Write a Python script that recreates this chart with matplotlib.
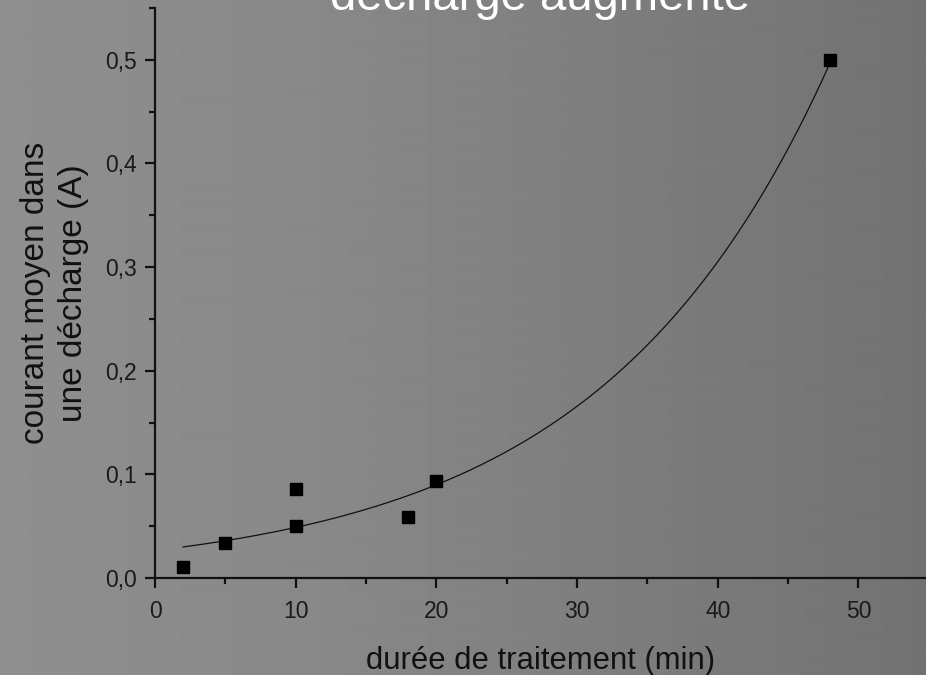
import matplotlib as mpl
import matplotlib.pyplot as plt
import numpy as np
from matplotlib.ticker import FuncFormatter, MultipleLocator

mpl.use("Agg")
plt.rcParams["font.family"] = ["Liberation Sans", "DejaVu Sans"]

# measured points: treatment duration (min) vs mean current in one discharge (A)
duree_min = [2, 5, 10, 10, 18, 20, 48]
courant_a = [0.011, 0.034, 0.086, 0.050, 0.059, 0.094, 0.500]

# exponential growth fit y = A * exp(B * x), drawn from first to last point
FIT_A = 0.0265
FIT_B = 0.0611

INK = "#111111"

fig = plt.figure(figsize=(9.26, 6.75), dpi=100)

# grey horizontal gradient behind everything
bg = fig.add_axes([0, 0, 1, 1], zorder=-1)
bg.axis("off")
cols = np.interp(np.linspace(0, 1, 926), [0, 0.33, 1], [0x8f, 0x89, 0x72]) / 255
bg.imshow(np.tile(cols, (2, 1)), cmap="gray", vmin=0, vmax=1, aspect="auto",
          extent=[0, 1, 0, 1], interpolation="bilinear")

ax = fig.add_axes([155 / 926, 97 / 675, 771 / 926, 570 / 675])
ax.set_facecolor("none")

xs = np.linspace(min(duree_min), max(duree_min), 300)
ax.plot(xs, FIT_A * np.exp(FIT_B * xs), color=INK, lw=0.9)
ax.plot(duree_min, courant_a, "s", color="black", ms=8.5, ls="none")

ax.set_xlim(0, 54.8)
ax.set_ylim(0, 0.55)
ax.xaxis.set_major_locator(MultipleLocator(10))
ax.xaxis.set_minor_locator(MultipleLocator(5))
ax.yaxis.set_major_locator(MultipleLocator(0.1))
ax.yaxis.set_minor_locator(MultipleLocator(0.05))
ax.yaxis.set_major_formatter(FuncFormatter(lambda v, _: f"{v:.1f}".replace(".", ",")))

for s in ("top", "right"):
    ax.spines[s].set_visible(False)
for s in ("left", "bottom"):
    ax.spines[s].set_linewidth(1.6)
    ax.spines[s].set_color(INK)
ax.tick_params(which="major", length=7, width=1.6, labelsize=16.5, color=INK,
               labelcolor="#1a1a1a")
ax.tick_params(axis="x", which="major", pad=8.5)
ax.tick_params(axis="y", which="major", pad=6)
ax.tick_params(which="minor", length=4.5, width=1.6, color=INK)

ax.set_xlabel("durée de traitement (min)", fontsize=22.3, color="#111111", labelpad=17)
ax.set_ylabel("courant moyen dans\nune décharge (A)", fontsize=24, color="#111111",
              labelpad=12, linespacing=1.28)

fig.text(540 / 926, 1 - 10 / 675, "décharge augmente", color="white", fontsize=34,
         ha="center", va="baseline")

fig.savefig("out.png", dpi=100)
